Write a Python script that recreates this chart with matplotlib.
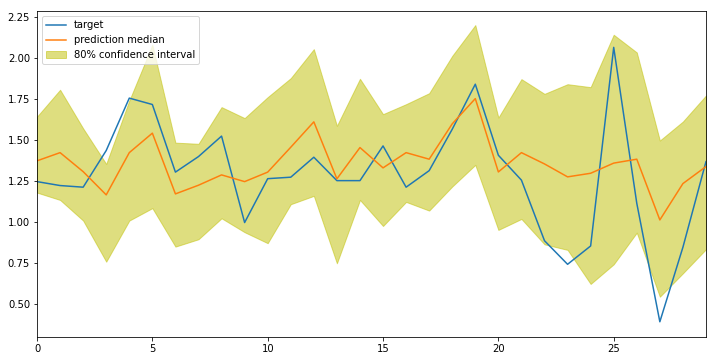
import numpy as np
import matplotlib
matplotlib.use('Agg')
import matplotlib.pyplot as plt

# Time steps
steps = np.arange(30)

# Observed target values
target = [1.245, 1.221, 1.211, 1.435, 1.755, 1.716, 1.303, 1.398, 1.523, 0.995,
          1.263, 1.272, 1.394, 1.251, 1.251, 1.463, 1.211, 1.312, 1.565, 1.840,
          1.406, 1.254, 0.884, 0.740, 0.852, 2.065, 1.113, 0.389, 0.844, 1.367]

# Median of the forecast
median = [1.372, 1.422, 1.306, 1.164, 1.422, 1.541, 1.170, 1.223, 1.286, 1.245,
          1.303, 1.455, 1.610, 1.262, 1.453, 1.329, 1.422, 1.382, 1.598, 1.752,
          1.304, 1.422, 1.353, 1.274, 1.296, 1.358, 1.382, 1.011, 1.233, 1.337]

# 80% interval bounds
upper = [1.642, 1.806, 1.570, 1.353, 1.740, 2.081, 1.483, 1.476, 1.700, 1.633,
         1.761, 1.877, 2.054, 1.586, 1.873, 1.657, 1.718, 1.785, 2.013, 2.201,
         1.636, 1.871, 1.781, 1.840, 1.822, 2.142, 2.034, 1.496, 1.612, 1.771]
lower = [1.178, 1.133, 1.007, 0.756, 1.007, 1.083, 0.848, 0.893, 1.021, 0.936,
         0.869, 1.107, 1.158, 0.746, 1.133, 0.974, 1.121, 1.068, 1.215, 1.347,
         0.950, 1.017, 0.862, 0.828, 0.620, 0.740, 0.933, 0.542, 0.685, 0.832]

fig = plt.figure(figsize=(716 / 72, 361 / 72), dpi=72)
ax = fig.add_axes([0.0517, 0.0665, 0.9343, 0.903])

ax.plot(steps, target, color='tab:blue', lw=1.5, label='target')
ax.plot(steps, median, color='tab:orange', lw=1.5, label='prediction median')
ax.fill_between(steps, lower, upper, color='y', alpha=0.5,
                label='80% confidence interval')

ax.set_xlim(0, 29)
ax.set_ylim(0.296, 2.287)
ax.set_xticks([0, 5, 10, 15, 20, 25])
ax.set_yticks([0.5, 0.75, 1.0, 1.25, 1.5, 1.75, 2.0, 2.25])
ax.legend(loc='upper left')

fig.savefig('out.png', dpi=72)
